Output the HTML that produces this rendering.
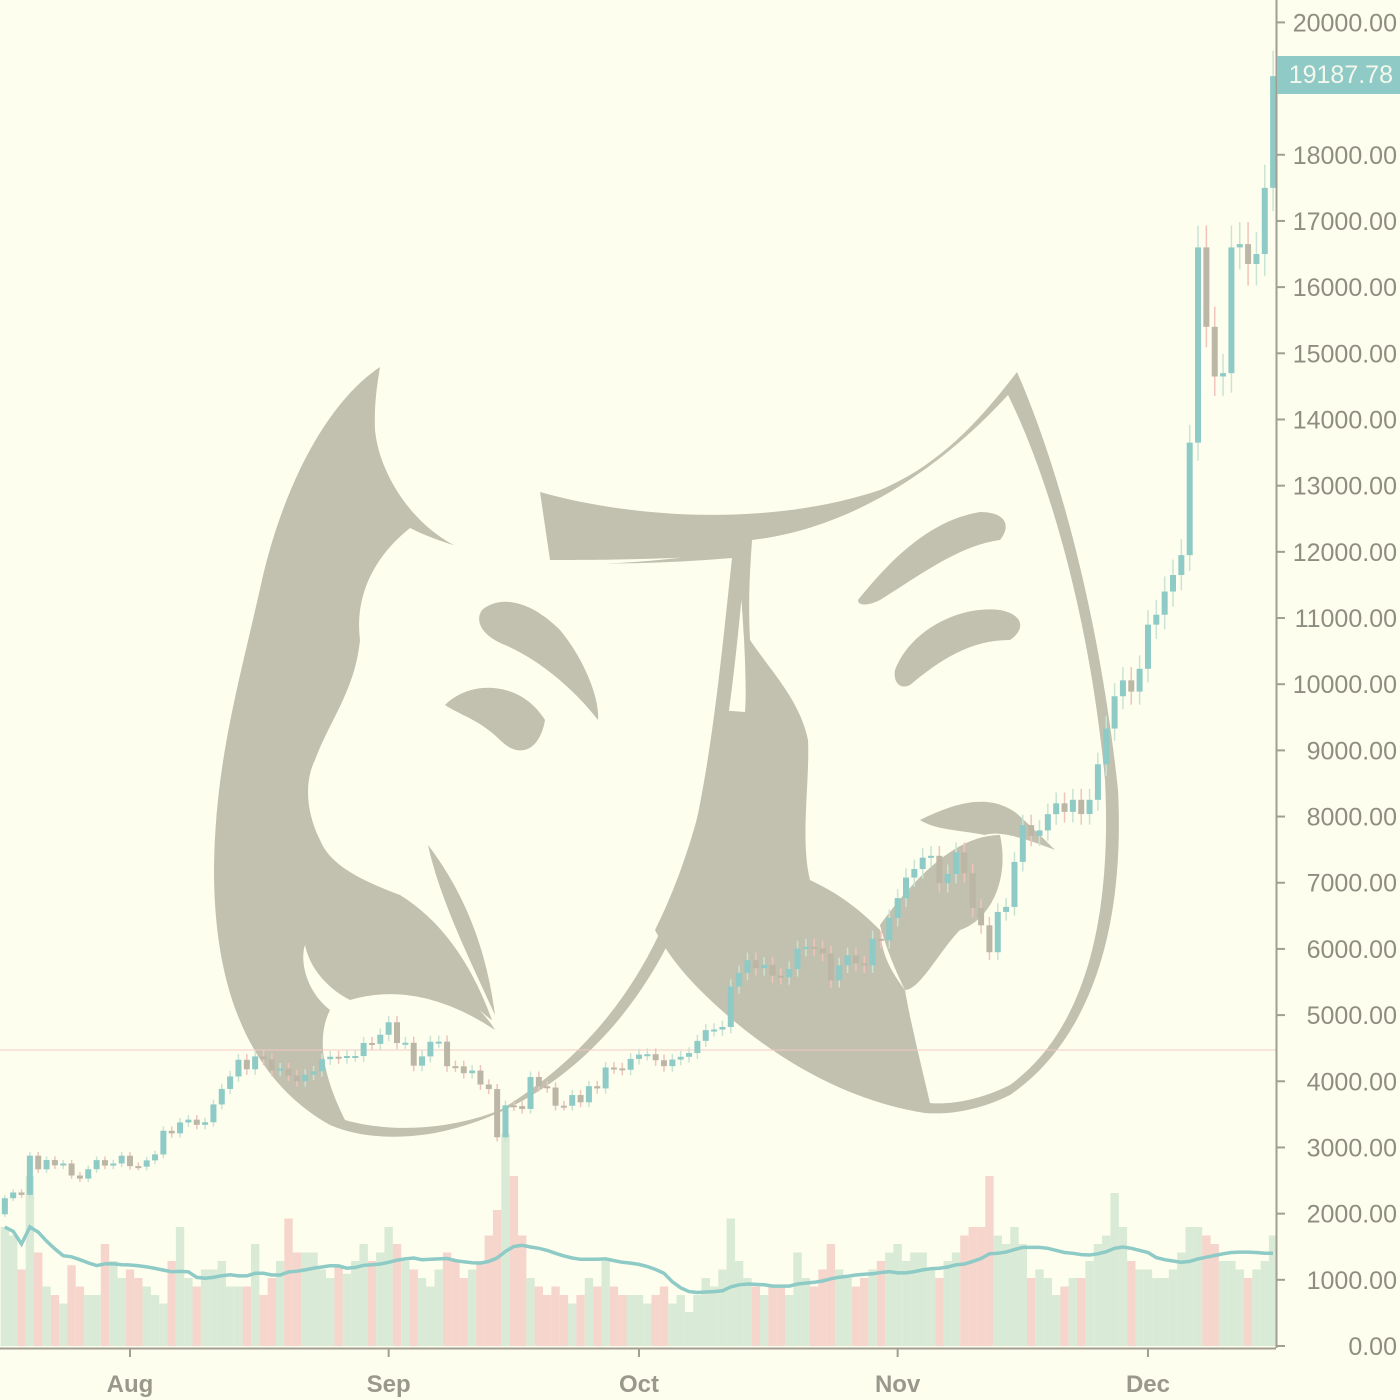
<!DOCTYPE html>
<html><head><meta charset="utf-8"><style>
html,body{margin:0;padding:0;background:#fefeee;}
svg{display:block;font-family:"Liberation Sans",sans-serif;}
</style></head><body>
<svg id="chart" width="1400" height="1400" viewBox="0 0 1400 1400">
<rect x="0" y="0" width="1400" height="1400" fill="#fefeee"/>
<g id="masks" fill="#c2c0ae">
  <path d="M380,367 C330,400 285,480 262,580 C240,680 215,760 214,870 C214,990 250,1080 330,1125 C360,1138 400,1140 440,1132 C540,1110 620,1040 670,940 C710,860 730,740 746,548 C650,565 540,572 470,552 C420,535 380,480 375,430 C374,405 377,385 380,367 Z"/>
  <path fill="#fefeee" d="M410,528 C470,558 560,572 732,558 C722,650 712,760 690,850 C660,960 600,1050 500,1110 C450,1130 390,1133 345,1120 C325,1080 315,1040 330,1010 C305,990 300,960 305,945 C350,940 400,950 440,980 C470,1000 490,1020 492,1020 C470,960 440,920 400,895 C360,880 330,865 320,840 C305,810 305,780 315,760 C330,720 355,690 360,640 C355,600 370,560 410,528 Z"/>
  <path d="M305,945 C360,935 420,955 470,1000 C490,1020 495,1030 495,1030 C450,1000 400,985 350,1000 C330,990 310,970 305,945 Z"/>
  <path d="M428,845 C440,900 470,960 495,1015 C488,960 470,900 428,845 Z"/>
  <ellipse cx="318" cy="637" rx="27" ry="12"/>
  <path d="M445,705 C470,680 520,680 545,720 C540,750 520,760 500,740 C480,720 460,715 445,705 Z"/>
  <path d="M482,610 C500,595 530,600 560,630 C585,660 600,700 598,720 C575,690 540,660 505,645 C480,635 475,620 482,610 Z"/>
  <path d="M540,492 C620,515 760,530 880,490 C940,465 980,420 1017,372 C1060,470 1100,620 1118,790 C1125,930 1090,1040 1010,1095 C980,1110 950,1115 925,1113 C840,1100 760,1050 700,990 C680,970 665,950 655,930 C690,860 710,780 718,710 L745,712 C748,680 740,560 736,555 C650,560 590,560 550,560 Z"/>
  <path fill="#fefeee" d="M752,540 C840,530 930,480 1008,395 C1050,480 1090,620 1105,780 C1112,920 1085,1030 1010,1085 C980,1100 950,1105 930,1103 C920,1060 910,1020 905,990 C890,970 882,955 880,930 C850,900 830,890 810,880 C800,840 810,780 808,740 C800,700 770,670 750,640 C748,600 750,570 752,540 Z"/>
  <path d="M880,925 C920,870 960,835 1000,835 C1010,880 990,920 960,930 C940,950 920,990 905,990 C895,970 885,945 880,925 Z"/>
  <path d="M920,820 C960,800 990,795 1015,812 C1030,825 1045,840 1055,850 C1030,840 1000,830 985,835 C960,830 935,830 920,820 Z"/>
  <path d="M858,600 C890,560 930,520 980,512 C1005,512 1012,525 1000,540 C960,545 920,575 880,600 C868,606 858,606 858,600 Z"/>
  <path d="M895,670 C910,630 960,605 1000,610 C1025,615 1025,630 1010,640 C970,640 940,660 910,685 C900,690 893,682 895,670 Z"/>
</g>
<line x1="0" y1="1050" x2="1276" y2="1050" stroke="#f3c9c4" stroke-width="1"/>
<g id="vol"></g>
<path id="volma" fill="none" stroke="#8ecac6" stroke-width="3.5"/>
<g id="candles"></g>
<line x1="1276.5" y1="0" x2="1276.5" y2="1348" stroke="#a19f92" stroke-width="2"/>
<line x1="0" y1="1348.5" x2="1276" y2="1348.5" stroke="#a19f92" stroke-width="2"/>
<g id="yaxis"></g>
<g id="xaxis"></g>
<rect x="1277" y="56" width="123" height="38" fill="#8fcac6"/>
<text x="1393" y="83" text-anchor="end" font-size="25" fill="#f4f8ec">19187.78</text>
</svg>
<script>
const closes = [2233,2320,2283,2876,2670,2810,2730,2758,2576,2529,2671,2809,2726,2758,2875,
2718,2710,2805,2895,3252,3213,3378,3420,3342,3381,3650,3884,4073,4325,4181,4376,4331,4160,4193,4087,4001,4100,4151,4334,4371,4352,4382,4382,4579,4565,4703,
4892,4578,4582,4236,4376,4597,4599,4228,4226,4122,4162,3951,3882,3154,3637,3625,3582,4065,3924,3905,3631,3630,3792,3682,3926,3892,4208,4195,4174,4338,
4403,4409,4318,4229,4328,4370,4426,4611,4773,4782,4820,5431,5638,5829,5710,5760,5595,5572,5695,6006,6031,6008,5930,5526,5750,5904,5780,5753,6153,6130,6468,
6767,7078,7207,7379,7407,6993,7133,7459,7143,6618,6357,5950,6559,6635,7315,7871,7708,7791,8036,8200,8071,8253,8038,8253,8790,9330,9818,10058,9888,10233,
10900,11050,11400,11650,11950,13650,16600,15400,14650,14700,16600,16650,16350,16500,17500,19188];
const opens0 = [1990];
const volumes = [140,130,90,200,110,70,60,50,95,70,60,60,120,100,80,
90,80,70,60,50,100,140,80,70,90,90,100,70,70,70,120,60,80,100,150,110,110,110,90,80,95,85,100,120,100,110,
140,120,100,90,80,70,90,110,100,80,90,100,130,160,250,200,130,80,70,60,70,60,50,60,80,70,100,70,60,60,
60,50,60,70,50,60,40,60,80,70,90,150,100,80,70,60,70,70,60,110,80,70,90,120,90,80,70,80,90,100,110,
120,100,110,110,90,80,100,110,130,140,140,200,130,120,140,120,80,90,80,60,70,80,80,100,120,130,180,140,100,90,
90,80,80,90,110,140,140,130,120,100,100,90,80,90,100,130];
const yTicks = [0,1000,2000,3000,4000,5000,6000,7000,8000,9000,10000,11000,12000,13000,14000,15000,16000,17000,18000,20000];
const monthLabels = ["Aug","Sep","Oct","Nov","Dec"];
const monthIdx = [15,46,76,107,137];

const NS="http://www.w3.org/2000/svg";
function xS(i){return 130+(i-15)*8.344;}
function yS(p){return 1346-p*0.06618;}
function vS(v){return 1346-v*0.85;}
function mk(tag,attrs,parent){const e=document.createElementNS(NS,tag);for(const k in attrs)e.setAttribute(k,attrs[k]);parent.appendChild(e);return e;}

const vol=document.getElementById('vol'), cg=document.getElementById('candles');
for(let i=0;i<closes.length;i++){
  const o = i===0?opens0[0]:closes[i-1];
  const c = closes[i];
  const up = c>=o;
  const x=xS(i);
  const b=mk('rect',{x:x-4.2,y:vS(volumes[i]),width:8.4,height:1346-vS(volumes[i]),fill:up?'#d9ebd6':'#f6d6cc'},vol);
  
  
  const hi=Math.max(o,c)*1.02, lo=Math.min(o,c)*0.98;
  const w=mk('line',{x1:x,x2:x,y1:yS(hi),y2:yS(lo),stroke:up?'#c9e3d6':'#efc4bd','stroke-width':1.5},cg);
  
  
  const top=yS(Math.max(o,c)), bh=Math.max(2,yS(Math.min(o,c))-top);
  const r=mk('rect',{x:x-3,y:top,width:6,height:bh,fill:up?'#8ecac6':'#bcb6a6'},cg);
  
  
}
let d='';
for(let i=0;i<volumes.length;i++){
  const s=Math.max(0,i-19);let sum=0;for(let j=s;j<=i;j++)sum+=volumes[j];
  const m=sum/(i-s+1);
  d+=(i?'L':'M')+xS(i).toFixed(1)+','+vS(m).toFixed(1);
}
document.getElementById('volma').setAttribute('d',d);

const ya=document.getElementById('yaxis');
yTicks.forEach(t=>{
  const y=yS(t);
  const l=mk('line',{x1:1277,x2:1285,y1:y,y2:y,stroke:'#a19f92','stroke-width':2},ya);
  
  
  const tx=mk('text',{x:1397,y:y+9,'text-anchor':'end','font-size':25,fill:'#8f8d82'},ya);
  tx.textContent=t.toFixed(2);
  
  
});
const xa=document.getElementById('xaxis');
monthIdx.forEach((idx,k)=>{
  const x=xS(idx);
  const l=mk('line',{x1:x,x2:x,y1:1349,y2:1357,stroke:'#a19f92','stroke-width':2},xa);
  
  
  const tx=mk('text',{x:x,y:1392,'text-anchor':'middle','font-size':24,'font-weight':'bold',fill:'#9a988c'},xa);
  tx.textContent=monthLabels[k];
  
  
});
</script>
</body></html>
